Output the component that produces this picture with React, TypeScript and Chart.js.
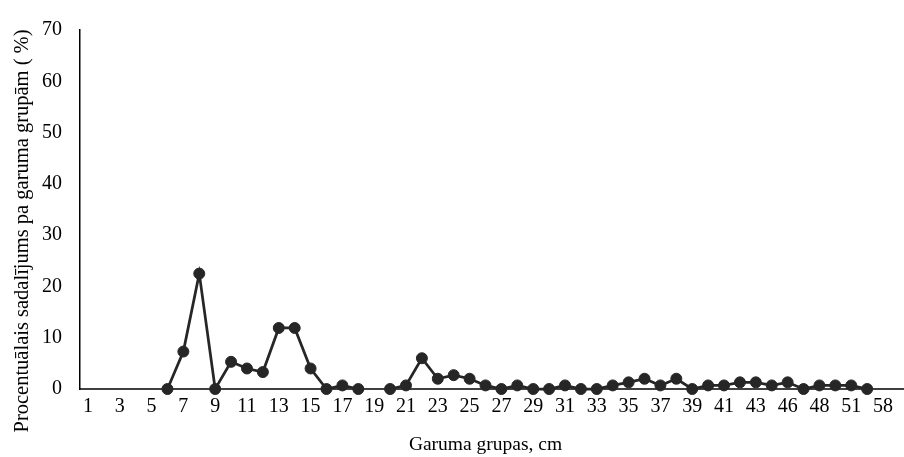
import React, { useEffect, useRef } from "react";
import { Chart, registerables } from "chart.js";

Chart.register(...registerables);

const categories: string[] = [
  "1","2","3","4","5","6","7","8","9","10",
  "11","12","13","14","15","16","17","18","19","20",
  "21","22","23","24","25","26","27","28","29","30",
  "31","32","33","34","35","36","37","38","39","40",
  "41","42","43","45","46","47","48","49","51","52","58",
];

const percentValues: (number | null)[] = [
  null, null, null, null, null, 0, 7.3, 22.5, 0, 5.3,
  4.0, 3.3, 11.9, 11.9, 4.0, 0, 0.7, 0, null, 0,
  0.7, 6.0, 2.0, 2.7, 2.0, 0.7, 0, 0.7, 0, 0,
  0.7, 0, 0, 0.7, 1.3, 2.0, 0.7, 2.0, 0, 0.7,
  0.7, 1.3, 1.3, 0.7, 1.3, 0, 0.7, 0.7, 0.7, 0, null,
];

const yTicks: number[] = [0, 10, 20, 30, 40, 50, 60, 70];

const xTitle = "Garuma grupas, cm";
const yTitle = "Procentuālais sadalījums pa garuma grupām ( %)";

const FONT = "'Liberation Serif', 'Times New Roman', serif";

export default function App() {
  const ref = useRef<HTMLCanvasElement | null>(null);

  useEffect(() => {
    document.body.style.margin = "0";
    const canvas = ref.current;
    if (!canvas) return;

    const baseline = {
      id: "baseline",
      beforeDatasetsDraw(chart: any) {
        const y = chart.scales.y.getPixelForValue(0);
        const ctx = chart.ctx;
        ctx.save();
        ctx.strokeStyle = "#000";
        ctx.lineWidth = 1.5;
        ctx.beginPath();
        ctx.moveTo(chart.chartArea.left, y);
        ctx.lineTo(chart.width, y);
        ctx.stroke();
        ctx.restore();
      },
      afterDraw(chart: any) {
        const ctx = chart.ctx;
        ctx.save();
        ctx.translate(23, 231);
        ctx.rotate(-Math.PI / 2);
        ctx.fillStyle = "#000";
        ctx.font = `20.5px ${FONT}`;
        ctx.textAlign = "center";
        ctx.textBaseline = "middle";
        ctx.fillText(yTitle, 0, 0);
        ctx.restore();
      },
    };

    const chart = new Chart(canvas, {
      type: "line",
      data: {
        labels: categories,
        datasets: [
          {
            data: percentValues,
            borderColor: "#262626",
            backgroundColor: "#262626",
            borderWidth: 2.75,
            pointRadius: 5.5,
            pointHoverRadius: 5.5,
            pointBorderWidth: 1,
            pointBackgroundColor: "#262626",
            pointBorderColor: "#262626",
            tension: 0,
            spanGaps: false,
            clip: false as any,
          },
        ],
      },
      options: {
        animation: false,
        responsive: false,
        layout: { padding: { left: 0, right: 13, top: 25, bottom: 0 } },
        plugins: {
          legend: { display: false },
          tooltip: { enabled: false },
        },
        scales: {
          x: {
            type: "category",
            offset: true,
            grid: { display: false, drawTicks: false },
            border: { display: false },
            ticks: {
              autoSkip: false,
              maxRotation: 0,
              minRotation: 0,
              padding: 6,
              color: "#000",
              font: { family: FONT, size: 20 },
              callback: (_v: any, i: number) => (i % 2 === 0 ? categories[i] : ""),
            },
            title: {
              display: true,
              text: xTitle,
              color: "#000",
              font: { family: FONT, size: 19.5 },
              padding: { top: 8, bottom: 0 },
            },
            afterFit: (s: any) => {
              s.height = 68;
            },
          },
          y: {
            min: 0,
            max: 70,
            afterBuildTicks: (s: any) => {
              s.ticks = yTicks.map((v) => ({ value: v }));
            },
            grid: { display: false, drawTicks: false },
            border: { display: true, color: "#000", width: 1.5 },
            ticks: {
              padding: 18,
              color: "#000",
              font: { family: FONT, size: 20 },
            },
            title: { display: false },
            afterFit: (s: any) => {
              s.width = 80;
            },
          },
        },
      },
      plugins: [baseline],
    });

    return () => chart.destroy();
  }, []);

  return (
    <div style={{ width: 904, height: 457 }}>
      <canvas ref={ref} width={904} height={457} style={{ display: "block" }} />
    </div>
  );
}
